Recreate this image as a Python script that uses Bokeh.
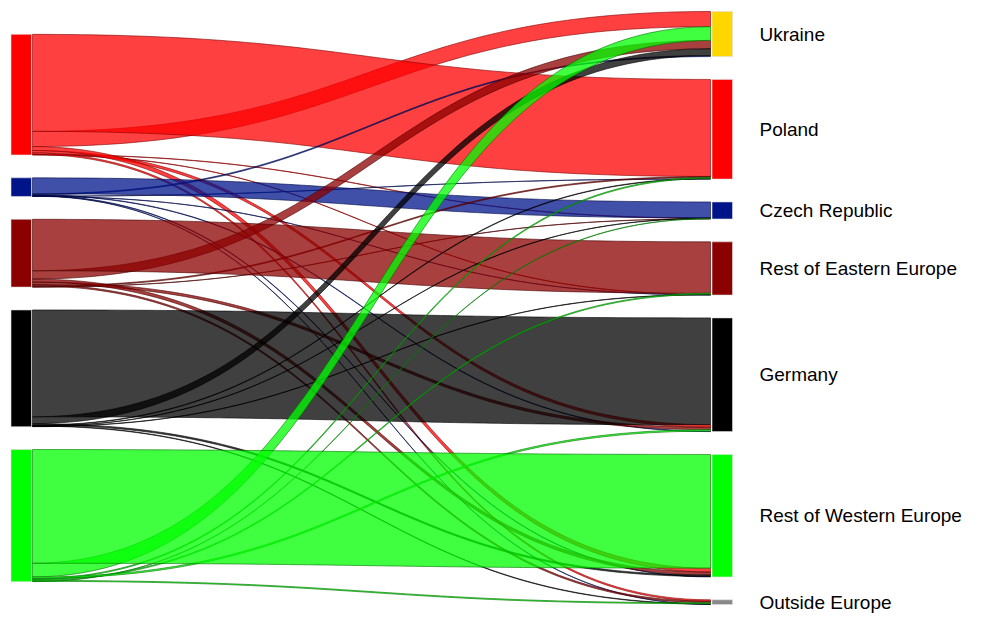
import numpy as np
from bokeh.plotting import figure
from bokeh.models import ColumnDataSource, Range1d
from bokeh.embed import file_html
from bokeh.resources import INLINE
from bokeh.core.properties import value

# ---------------- data ----------------
sources = ["Poland", "Czech Republic", "Rest of Eastern Europe", "Germany", "Rest of Western Europe"]
targets = ["Ukraine", "Poland", "Czech Republic", "Rest of Eastern Europe", "Germany",
           "Rest of Western Europe", "Outside Europe"]

# flows from each source to targets (in target order above)
from_poland = [15.5, 99.0, 0.3, 0.3, 2.5, 4.0, 1.5]
from_czech = [1.0, 0.2, 16.3, 0.2, 0.5, 0.5, 0.3]
from_rest_east = [8.5, 1.0, 0.2, 52.5, 2.5, 3.0, 1.5]
from_germany = [7.0, 0.5, 0.3, 0.3, 109.0, 1.5, 0.5]
from_rest_west = [14.0, 1.0, 0.3, 1.0, 1.5, 116.0, 1.0]

source_colors = ["#FF0000", "#001489", "#8B0000", "#000000", "#00FF00"]
source_dark = ["#800000", "#000a44", "#460000", "#000000", "#007000"]
target_colors = ["#FFD700", "#FF0000", "#001489", "#8B0000", "#000000", "#00FF00", "#888888"]

# ---------------- layout ----------------
flows = np.array([from_poland, from_czech, from_rest_east, from_germany, from_rest_west])
PAD = 23.3
src_tot = flows.sum(axis=1)
tgt_tot = flows.sum(axis=0)
T = flows.sum()
E = T + (max(len(sources), len(targets)) - 1) * PAD


def col_tops(tots):
    ext = tots.sum() + (len(tots) - 1) * PAD
    y = (E - ext) / 2
    tops = []
    for v in tots:
        tops.append(y)
        y += v + PAD
    return np.array(tops)


src_top = col_tops(src_tot)
tgt_top = col_tops(tgt_tot)

NX0, NX1 = 10.5, 31.0      # left node x extent
RX0, RX1 = 711.5, 732.0    # right node x extent
LX0, LX1 = 32.0, 710.0     # link x extent

# offsets of each link within its source / target (descending value order)
src_off = np.zeros_like(flows)
for i in range(len(sources)):
    order = sorted(range(len(targets)), key=lambda j: -flows[i, j])
    y = src_top[i]
    for j in order:
        src_off[i, j] = y
        y += flows[i, j]
tgt_off = np.zeros_like(flows)
for j in range(len(targets)):
    order = sorted(range(len(sources)), key=lambda i: -flows[i, j])
    y = tgt_top[j]
    for i in order:
        tgt_off[i, j] = y
        y += flows[i, j]

t = np.linspace(0, 1, 80)


def bez(x0, y0, x1, y1):
    xm = (x0 + x1) / 2
    bx = (1 - t) ** 3 * x0 + 3 * (1 - t) ** 2 * t * xm + 3 * (1 - t) * t ** 2 * xm + t ** 3 * x1
    by = (1 - t) ** 3 * y0 + 3 * (1 - t) ** 2 * t * y0 + 3 * (1 - t) * t ** 2 * y1 + t ** 3 * y1
    return bx, by


xs, ys, fills, lines = [], [], [], []
for i in range(len(sources)):
    for j in range(len(targets)):
        v = flows[i, j]
        if v <= 0:
            continue
        tx, ty = bez(LX0, src_off[i, j], LX1, tgt_off[i, j])
        bx, by = bez(LX0, src_off[i, j] + v, LX1, tgt_off[i, j] + v)
        xs.append(np.concatenate([tx, bx[::-1]]).tolist())
        ys.append(np.concatenate([ty, by[::-1]]).tolist())
        fills.append(source_colors[i])
        lines.append(source_dark[i])

W, H = 966, 614
TOP_PX, BOT_PX = 11.0, 604.0            # pixel rows of layout top / bottom
s = (BOT_PX - TOP_PX) / E               # pixels per unit
p = figure(width=W, height=H, output_backend="svg", toolbar_location=None,
           x_range=Range1d(0, W), y_range=Range1d((H - TOP_PX) / s, -TOP_PX / s),
           x_axis_location=None, y_axis_location=None, min_border=0)
p.grid.visible = False
p.outline_line_color = None
p.background_fill_color = "white"

link_src = ColumnDataSource(dict(xs=xs, ys=ys, fill=fills, line=lines))
p.patches("xs", "ys", source=link_src, fill_color="fill", fill_alpha=0.75,
          line_color="line", line_alpha=0.75, line_width=0.8)

# nodes
p.quad(left=NX0, right=NX1, top=src_top, bottom=src_top + src_tot,
       fill_color=source_colors, line_color="#dddddd", line_width=0.6)
p.quad(left=RX0, right=RX1, top=tgt_top, bottom=tgt_top + tgt_tot,
       fill_color=target_colors, line_color="#dddddd", line_width=0.6)

p.text(x=[759] * len(targets), y=(tgt_top + tgt_tot / 2).tolist(), text=targets,
       text_baseline="middle", text_align="left", text_color="black",
       text_font=value("Liberation Sans"), text_font_size="19px")

open("out.html", "w").write(file_html(p, INLINE))
